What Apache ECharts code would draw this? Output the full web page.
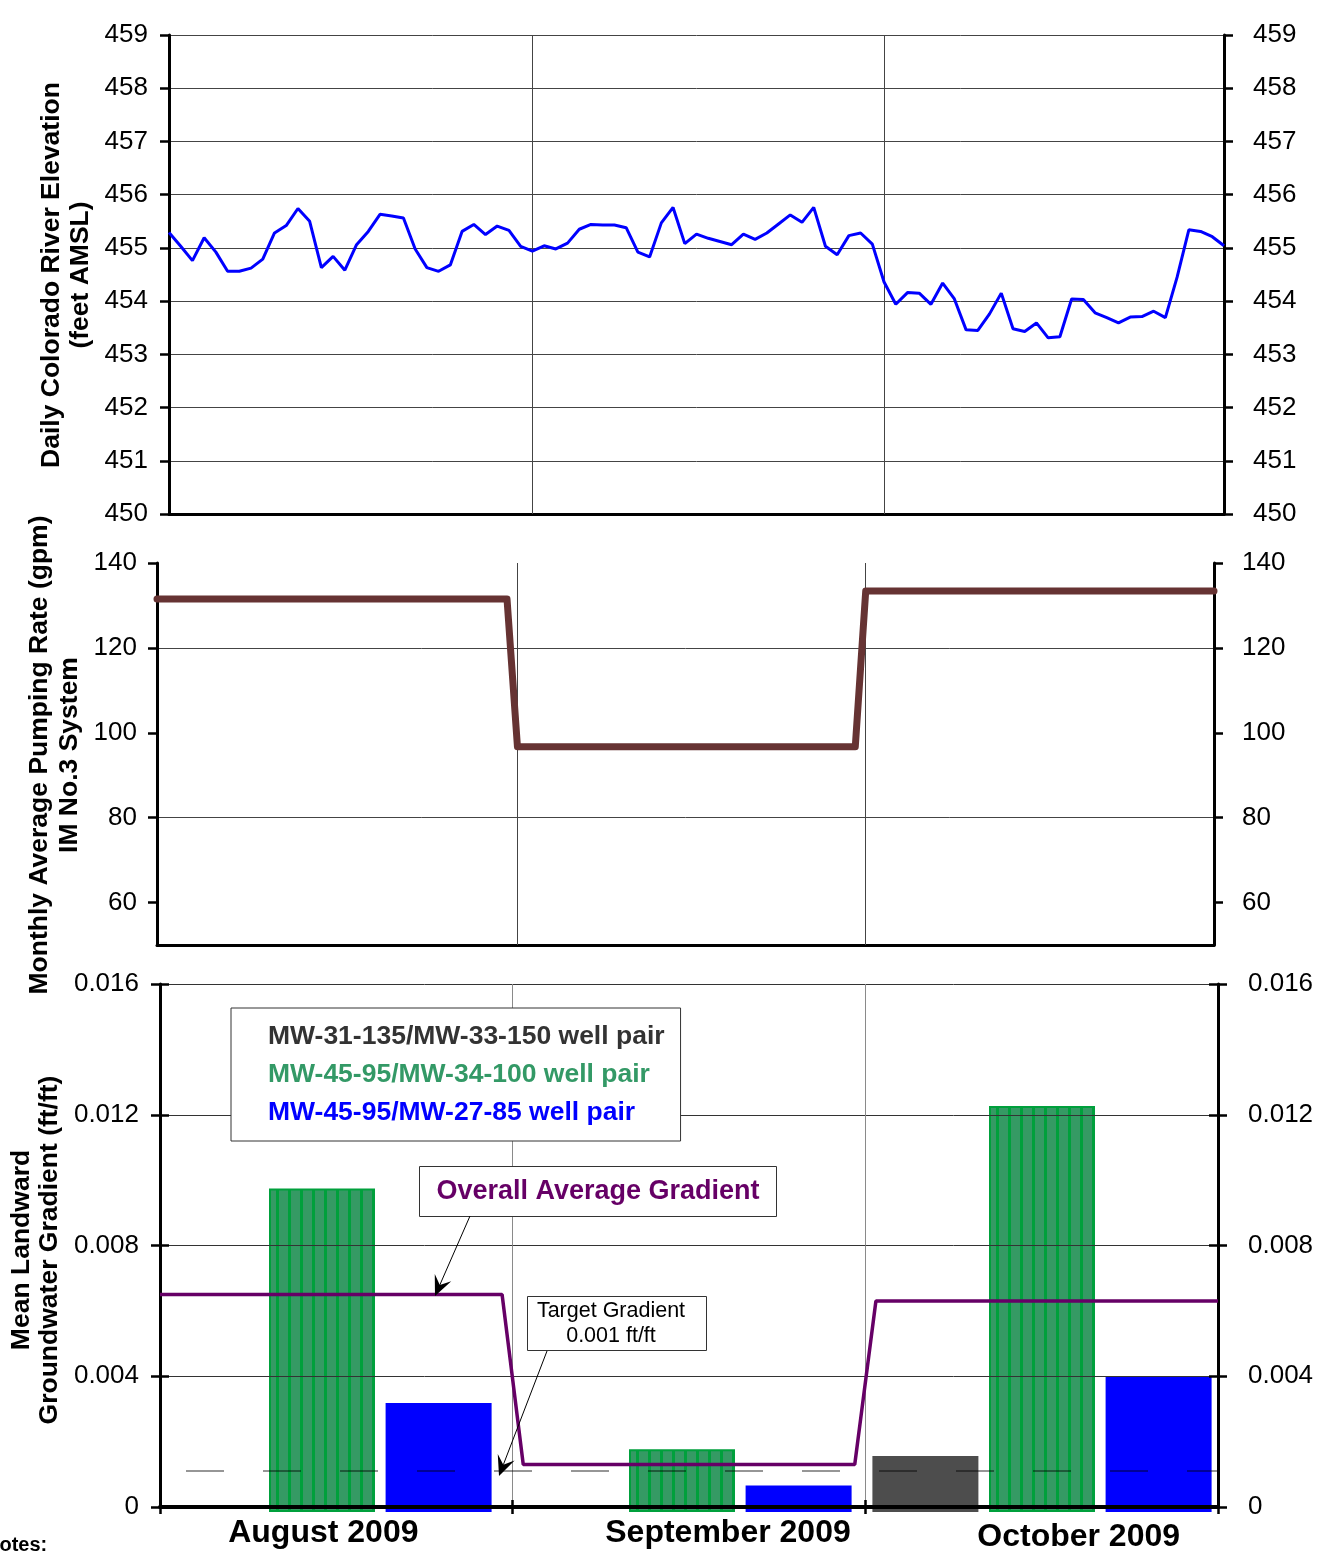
<!DOCTYPE html>
<html>
<head>
<meta charset="utf-8">
<script src="https://cdn.jsdelivr.net/npm/echarts@6/dist/echarts.min.js"></script>
<style>
html,body{margin:0;padding:0;background:#fff;}
#chart{width:1324px;height:1553px;}
</style>
</head>
<body>
<div id="chart"></div>
<script>
// ---------------- DATA ----------------
const riverElevation = [
  455.29, 455.03, 454.76, 455.19, 454.92, 454.56, 454.56, 454.62, 454.79, 455.28,
  455.42, 455.74, 455.50, 454.63, 454.84, 454.58, 455.06, 455.31, 455.63, 455.60,
  455.56, 454.98, 454.63, 454.56, 454.68, 455.31, 455.44, 455.25, 455.41, 455.33,
  455.03, 454.94, 455.04, 454.98, 455.09, 455.35, 455.44, 455.43, 455.43, 455.38,
  454.92, 454.83, 455.47, 455.76, 455.08, 455.26, 455.18, 455.12, 455.06, 455.26,
  455.16, 455.28, 455.45, 455.62, 455.48, 455.76, 455.03, 454.87, 455.23, 455.28,
  455.07, 454.36, 453.94, 454.16, 454.15, 453.94, 454.34, 454.04, 453.46, 453.45,
  453.76, 454.15, 453.48, 453.43, 453.59, 453.31, 453.33, 454.04, 454.03, 453.78,
  453.69, 453.59, 453.70, 453.71, 453.81, 453.69, 454.45, 455.34, 455.31, 455.21,
  455.04
];
const monthStartDays = [31, 61];               // Sep 1, Oct 1 (day index from Aug 1)
const months = ['August 2009', 'September 2009', 'October 2009'];
const pumpRate = [131.5, 96.7, 133.4];         // gpm, monthly average
const gradGray  = ['-', '-', 0.0017];          // MW-31-135/MW-33-150
const gradGreen = [0.0098, 0.0019, 0.0123];    // MW-45-95/MW-34-100
const gradBlue  = [0.0033, 0.0008, 0.0041];    // MW-45-95/MW-27-85
const gradOverall = [0.0065, 0.0013, 0.0063];  // overall average gradient
const targetGradient = 0.0011;
const elevTicks = [450, 451, 452, 453, 454, 455, 456, 457, 458, 459];
const pumpTicks = [60, 80, 100, 120, 140];
const gradTicks = [0, 0.004, 0.008, 0.012, 0.016];
const seriesNames = ['MW-31-135/MW-33-150 well pair', 'MW-45-95/MW-34-100 well pair', 'MW-45-95/MW-27-85 well pair'];

// ---------------- HELPERS ----------------
const FONT = '"Liberation Sans", Arial, Helvetica, sans-serif';
const RAMP = 0.03;
const PUMP_X_MIN = -0.035;
function stepLine(vals, before, after, start) {
  const pts = [];
  vals.forEach((v, i) => {
    const s = i === 0 ? start : i + after;
    const e = i === vals.length - 1 ? i + 1 : i + 1 - before;
    pts.push([s, v], [e, v]);
  });
  return pts;
}
function greenPattern() {
  const c = document.createElement('canvas');
  c.width = 12; c.height = 12;
  const g = c.getContext('2d');
  g.fillStyle = '#359a64'; g.fillRect(0, 0, 12, 12);
  g.fillStyle = '#00a03c'; g.fillRect(0, 0, 3, 12);
  return c;
}
function arrow(x1, y1, x2, y2) {
  const dx = x2 - x1, dy = y2 - y1, len = Math.hypot(dx, dy);
  const ux = dx / len, uy = dy / len, nx = -uy, ny = ux;
  const L = 20, W = 9;
  const bx = x2 - ux * L, by = y2 - uy * L;
  const mx = x2 - ux * L * 0.6, my = y2 - uy * L * 0.6;
  return [
    { type: 'line', shape: { x1, y1, x2: mx, y2: my }, style: { stroke: '#000', lineWidth: 1 }, z: 100 },
    { type: 'polygon', shape: { points: [[x2, y2], [bx + nx * W, by + ny * W], [mx, my], [bx - nx * W, by - ny * W]] }, style: { fill: '#000' }, z: 100 }
  ];
}

// ---------------- AXES ----------------
const tickLabel = { fontFamily: FONT, fontSize: 26, color: '#000' };
function yAx(grid, pos, min, max, opts) {
  return Object.assign({
    type: 'value', gridIndex: grid, position: pos, min, max,
    axisLine: { show: true, onZero: false, lineStyle: { color: '#000', width: 3 } },
    axisTick: { show: true, inside: false, length: 9, lineStyle: { color: '#000', width: 2.5 } },
    axisLabel: Object.assign({ margin: pos === 'left' ? 21 : 29 }, tickLabel),
    splitLine: { show: false }
  }, opts);
}
function yDup(grid, pos, min, max, interval) {
  return {
    type: 'value', gridIndex: grid, position: pos, min, max, interval, z: 8,
    axisLine: { show: false, onZero: false },
    axisTick: { show: true, inside: true, length: 9, lineStyle: { color: '#000', width: 2.5 } },
    axisLabel: { show: false }, splitLine: { show: false }
  };
}

const riverData = riverElevation.map((v, i) => [i, v]);

const option = {
  animation: false,
  backgroundColor: '#fff',
  textStyle: { fontFamily: FONT },
  grid: [
    { left: 169, top: 35, width: 1055, height: 479 },
    { left: 157, top: 563, width: 1057, height: 382 },
    { left: 160, top: 984, width: 1058, height: 528 },
    { left: 142, top: 984, width: 1080, height: 528 }   // bar layout grid (hidden axes)
  ],
  legend: {
    orient: 'vertical', left: 231, top: 1008, z: 20,
    padding: [14, 16, 13, 31], itemGap: 8,
    itemWidth: 0, itemHeight: 0, icon: 'rect',
    borderColor: '#333', borderWidth: 1, backgroundColor: '#fff',
    selectedMode: false,
    textStyle: { fontFamily: FONT, fontSize: 26.5, fontWeight: 'bold', lineHeight: 30 },
    data: [
      { name: seriesNames[0], textStyle: { color: '#333333' } },
      { name: seriesNames[1], textStyle: { color: '#339966' } },
      { name: seriesNames[2], textStyle: { color: '#0000ff' } }
    ]
  },
  xAxis: [
    { type: 'value', gridIndex: 0, min: 0, max: riverElevation.length - 1,
      axisLine: { show: true, onZero: false, lineStyle: { color: '#000', width: 3 } },
      axisTick: { show: false }, axisLabel: { show: false }, splitLine: { show: false } },
    { type: 'value', gridIndex: 1, min: PUMP_X_MIN, max: 3,
      axisLine: { show: true, onZero: false, lineStyle: { color: '#000', width: 3 } },
      axisTick: { show: false }, axisLabel: { show: false }, splitLine: { show: false } },
    { type: 'category', gridIndex: 2, data: months, position: 'bottom', z: 8,
      axisLine: { show: true, onZero: false, lineStyle: { color: '#000', width: 4 } },
      axisTick: { show: true, length: 7, lineStyle: { color: '#000', width: 2.5 } },
      splitLine: { show: true, lineStyle: { color: '#8a8a8a', width: 1 } },
      axisLabel: {
        margin: 10,
        formatter: (v, i) => '{m' + i + '|' + v + '}',
        rich: {
          m0: { fontFamily: FONT, fontSize: 32, fontWeight: 'bold', color: '#000', padding: [0, 26, 0, 0] },
          m1: { fontFamily: FONT, fontSize: 32, fontWeight: 'bold', color: '#000', padding: [0, 0, 0, 78] },
          m2: { fontFamily: FONT, fontSize: 32, fontWeight: 'bold', color: '#000', padding: [4, 0, 0, 74] }
        }
      } },
    { type: 'value', gridIndex: 2, min: 0, max: 3, show: false },
    { type: 'category', gridIndex: 2, data: months, position: 'bottom', z: 8,
      axisLine: { show: false, onZero: false },
      axisTick: { show: true, inside: true, length: 7, lineStyle: { color: '#000', width: 2.5 } },
      axisLabel: { show: false }, splitLine: { show: false } },
    { type: 'category', gridIndex: 3, data: months, show: false }
  ],
  yAxis: [
    yAx(0, 'left', elevTicks[0], elevTicks[elevTicks.length - 1], { interval: 1,
      splitLine: { show: true, lineStyle: { color: '#444', width: 1 } } }),
    yAx(0, 'right', elevTicks[0], elevTicks[elevTicks.length - 1], { interval: 1 }),
    yAx(1, 'left', 50, pumpTicks[pumpTicks.length - 1], { interval: 10,
      axisLabel: Object.assign({ margin: 20, customValues: pumpTicks }, tickLabel),
      axisTick: { show: true, length: 9, customValues: pumpTicks, lineStyle: { color: '#000', width: 2.5 } },
      splitLine: { show: true, lineStyle: { color: ['rgba(0,0,0,0)', '#444'], width: 1 } } }),
    yAx(1, 'right', 50, pumpTicks[pumpTicks.length - 1], { interval: 10,
      axisLabel: Object.assign({ margin: 28, customValues: pumpTicks }, tickLabel),
      axisTick: { show: true, length: 9, customValues: pumpTicks, lineStyle: { color: '#000', width: 2.5 } } }),
    yAx(2, 'left', gradTicks[0], gradTicks[gradTicks.length - 1], { interval: 0.004, z: 8,
      axisLabel: Object.assign({ margin: 21 }, tickLabel),
      splitLine: { show: true, lineStyle: { color: '#333', width: 1 } } }),
    yAx(2, 'right', gradTicks[0], gradTicks[gradTicks.length - 1], { interval: 0.004, z: 8,
      axisLabel: Object.assign({ margin: 30 }, tickLabel) }),
    yDup(2, 'left', gradTicks[0], gradTicks[gradTicks.length - 1], 0.004),
    yDup(2, 'right', gradTicks[0], gradTicks[gradTicks.length - 1], 0.004),
    { type: 'value', gridIndex: 3, min: gradTicks[0], max: gradTicks[gradTicks.length - 1], show: false }
  ],
  series: [
    { type: 'line', name: 'River', xAxisIndex: 0, yAxisIndex: 0, data: riverData,
      symbol: 'none', lineStyle: { color: '#0000ff', width: 3 }, z: 5,
      markLine: { silent: true, symbol: 'none', label: { show: false }, z: 1,
        lineStyle: { color: '#444', width: 1, type: 'solid' },
        data: monthStartDays.map(d => ({ xAxis: d })) } },
    { type: 'line', name: 'Pump', xAxisIndex: 1, yAxisIndex: 2, data: stepLine(pumpRate, RAMP, 0, PUMP_X_MIN),
      symbol: 'none', lineStyle: { color: '#663333', width: 7, cap: 'round', join: 'round' }, z: 5,
      markLine: { silent: true, symbol: 'none', label: { show: false }, z: 1,
        lineStyle: { color: '#444', width: 1, type: 'solid' },
        data: [{ xAxis: 1 }, { xAxis: 2 }] } },
    { type: 'bar', name: seriesNames[0], xAxisIndex: 5, yAxisIndex: 8, data: gradGray,
      barWidth: 106, barGap: '10%', itemStyle: { color: '#4d4d4d' }, z: 2 },
    { type: 'bar', name: seriesNames[1], xAxisIndex: 5, yAxisIndex: 8, data: gradGreen,
      barWidth: 106, barGap: '10%', z: 2,
      itemStyle: { color: { image: greenPattern(), repeat: 'repeat' }, borderColor: '#00a03c', borderWidth: 2 } },
    { type: 'bar', name: seriesNames[2], xAxisIndex: 5, yAxisIndex: 8, data: gradBlue,
      barWidth: 106, barGap: '10%', itemStyle: { color: '#0000ff' }, z: 2 },
    { type: 'line', name: 'Target Gradient', xAxisIndex: 3, yAxisIndex: 4,
      data: [[0, targetGradient], [3, targetGradient]], symbol: 'none', silent: true,
      lineStyle: { color: 'rgba(0,0,0,0.55)', width: 1.6, type: [38, 39], dashOffset: 51 }, z: 10 },
    { type: 'line', name: 'Overall Average Gradient', xAxisIndex: 3, yAxisIndex: 4,
      data: stepLine(gradOverall, RAMP, RAMP, 0), symbol: 'none',
      lineStyle: { color: '#660066', width: 3.5 }, z: 10 }
  ],
  graphic: [
    { type: 'text', x: 66, y: 275, rotation: Math.PI / 2,
      style: { text: 'Daily Colorado River Elevation\n(feet AMSL)', font: 'bold 26.5px ' + FONT, fill: '#000',
        align: 'center', verticalAlign: 'middle', lineHeight: 29 } },
    { type: 'text', x: 55, y: 755, rotation: Math.PI / 2,
      style: { text: 'Monthly Average Pumping Rate (gpm)\nIM No.3 System', font: 'bold 26.5px ' + FONT, fill: '#000',
        align: 'center', verticalAlign: 'middle', lineHeight: 30 } },
    { type: 'text', x: 36, y: 1250, rotation: Math.PI / 2,
      style: { text: 'Mean Landward\nGroundwater Gradient (ft/ft)', font: 'bold 26.5px ' + FONT, fill: '#000',
        align: 'center', verticalAlign: 'middle', lineHeight: 28 } },
    { type: 'rect', shape: { x: 419.5, y: 1166.5, width: 357, height: 50 },
      style: { fill: '#fff', stroke: '#333', lineWidth: 1 }, z: 90 },
    { type: 'text', x: 598, y: 1192, z: 91,
      style: { text: 'Overall Average Gradient', font: 'bold 27px ' + FONT, fill: '#660066', align: 'center', verticalAlign: 'middle' } },
    { type: 'rect', shape: { x: 527.5, y: 1296.5, width: 179, height: 54 },
      style: { fill: '#fff', stroke: '#333', lineWidth: 1 }, z: 90 },
    { type: 'text', x: 611, y: 1324, z: 91,
      style: { text: 'Target Gradient\n0.001 ft/ft', font: '21.5px ' + FONT, fill: '#000', align: 'center', verticalAlign: 'middle', lineHeight: 25 } },
    ...arrow(470, 1216, 435, 1296),
    ...arrow(547, 1351, 499, 1476),
    { type: 'text', x: -15, y: 1545,
      style: { text: 'Notes:', font: 'bold 20px ' + FONT, fill: '#000', verticalAlign: 'middle' } }
  ]
};

const chart = echarts.init(document.getElementById('chart'), null, { renderer: 'canvas' });
chart.setOption(option);
</script>
</body>
</html>
